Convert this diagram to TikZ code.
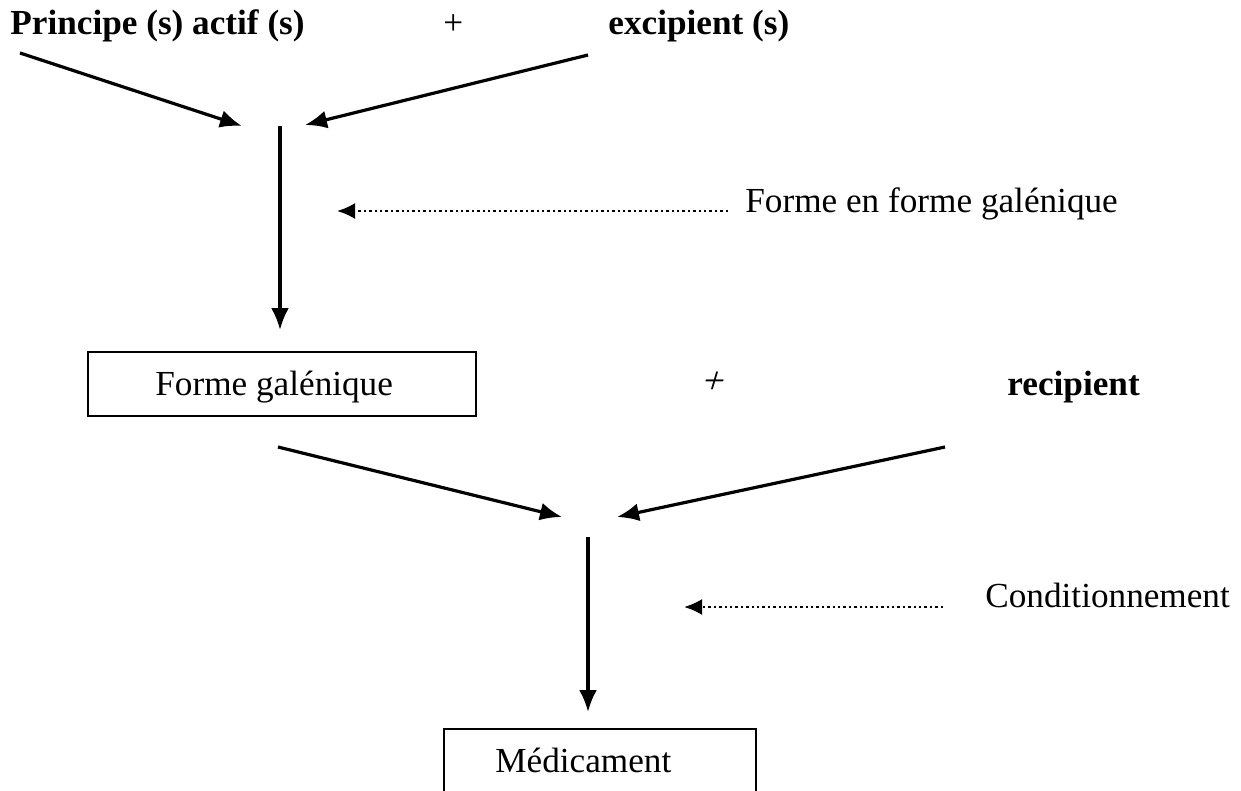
\documentclass[tikz,border=0pt]{standalone}
\usepackage{fontspec}
\setmainfont{Liberation Serif}
\usetikzlibrary{arrows.meta}
\tikzstyle{arrow} = [-{Latex[length=11pt,width=9pt]},line width=1.6pt]
\tikzstyle{dotarrow} = [-{Latex[length=9pt,width=8pt]},line width=1.2pt,dash pattern=on 1.2pt off 1.5pt]
\tikzstyle{label} = [anchor=base west,inner sep=0pt]
\tikzstyle{box} = [draw,line width=1.1pt,anchor=north west,inner sep=0pt]

\begin{document}
\begin{tikzpicture}[x=0.5pt,y=-0.5pt,font=\fontsize{17.6}{21}\selectfont]
      \useasboundingbox (0,0) rectangle (1241,791);
      % texts
      \node[label,font=\fontsize{17.6}{21}\selectfont\bfseries] (principe) at (10,35) {Principe (s) actif (s)};
      \node[label] (plusA) at (443,35) {+};
      \node[label,font=\fontsize{17.6}{21}\selectfont\bfseries] (excipient) at (608,35) {excipient (s)};
      \node[label] (mise) at (745,213) {Forme en forme galénique};
      \node[box,minimum width=194pt,minimum height=32pt] (forme) at (87,351) {};
      \node[label] (formetxt) at (155,395) {Forme galénique};
      \node[label,font=\fontsize{19}{21}\selectfont,xslant=0.3] (plusB) at (700,393) {+};
      \node[label,font=\fontsize{17.6}{21}\selectfont\bfseries] (recipient) at (1007,395) {recipient};
      \node[label] (condi) at (985,607) {Conditionnement};
      \node[box,minimum width=156pt,minimum height=40pt] (medic) at (443,728) {};
      \node[label] (medictxt) at (495,772) {Médicament};
      % end points
      \coordinate (pa) at (20,53);
      \coordinate (pb) at (588,55);
      \coordinate (ja) at (242,126);
      \coordinate (jb) at (305,125);
      \coordinate (va) at (280,126);
      \coordinate (vb) at (280,330);
      \coordinate (da) at (728,211);
      \coordinate (db) at (337,211);
      \coordinate (qa) at (278,447);
      \coordinate (qb) at (945,447);
      \coordinate (ka) at (562,517);
      \coordinate (kb) at (617,517);
      \coordinate (wa) at (588,537);
      \coordinate (wb) at (588,712);
      \coordinate (ea) at (943,607);
      \coordinate (eb) at (684,607);
      % connectors
      \draw[arrow](pa)--(ja);
      \draw[arrow](pb)--(jb);
      \draw[arrow](va)--(vb);
      \draw[dotarrow](da)--(db);
      \draw[arrow](qa)--(ka);
      \draw[arrow](qb)--(kb);
      \draw[arrow](wa)--(wb);
      \draw[dotarrow](ea)--(eb);
    \end{tikzpicture}
\end{document}
